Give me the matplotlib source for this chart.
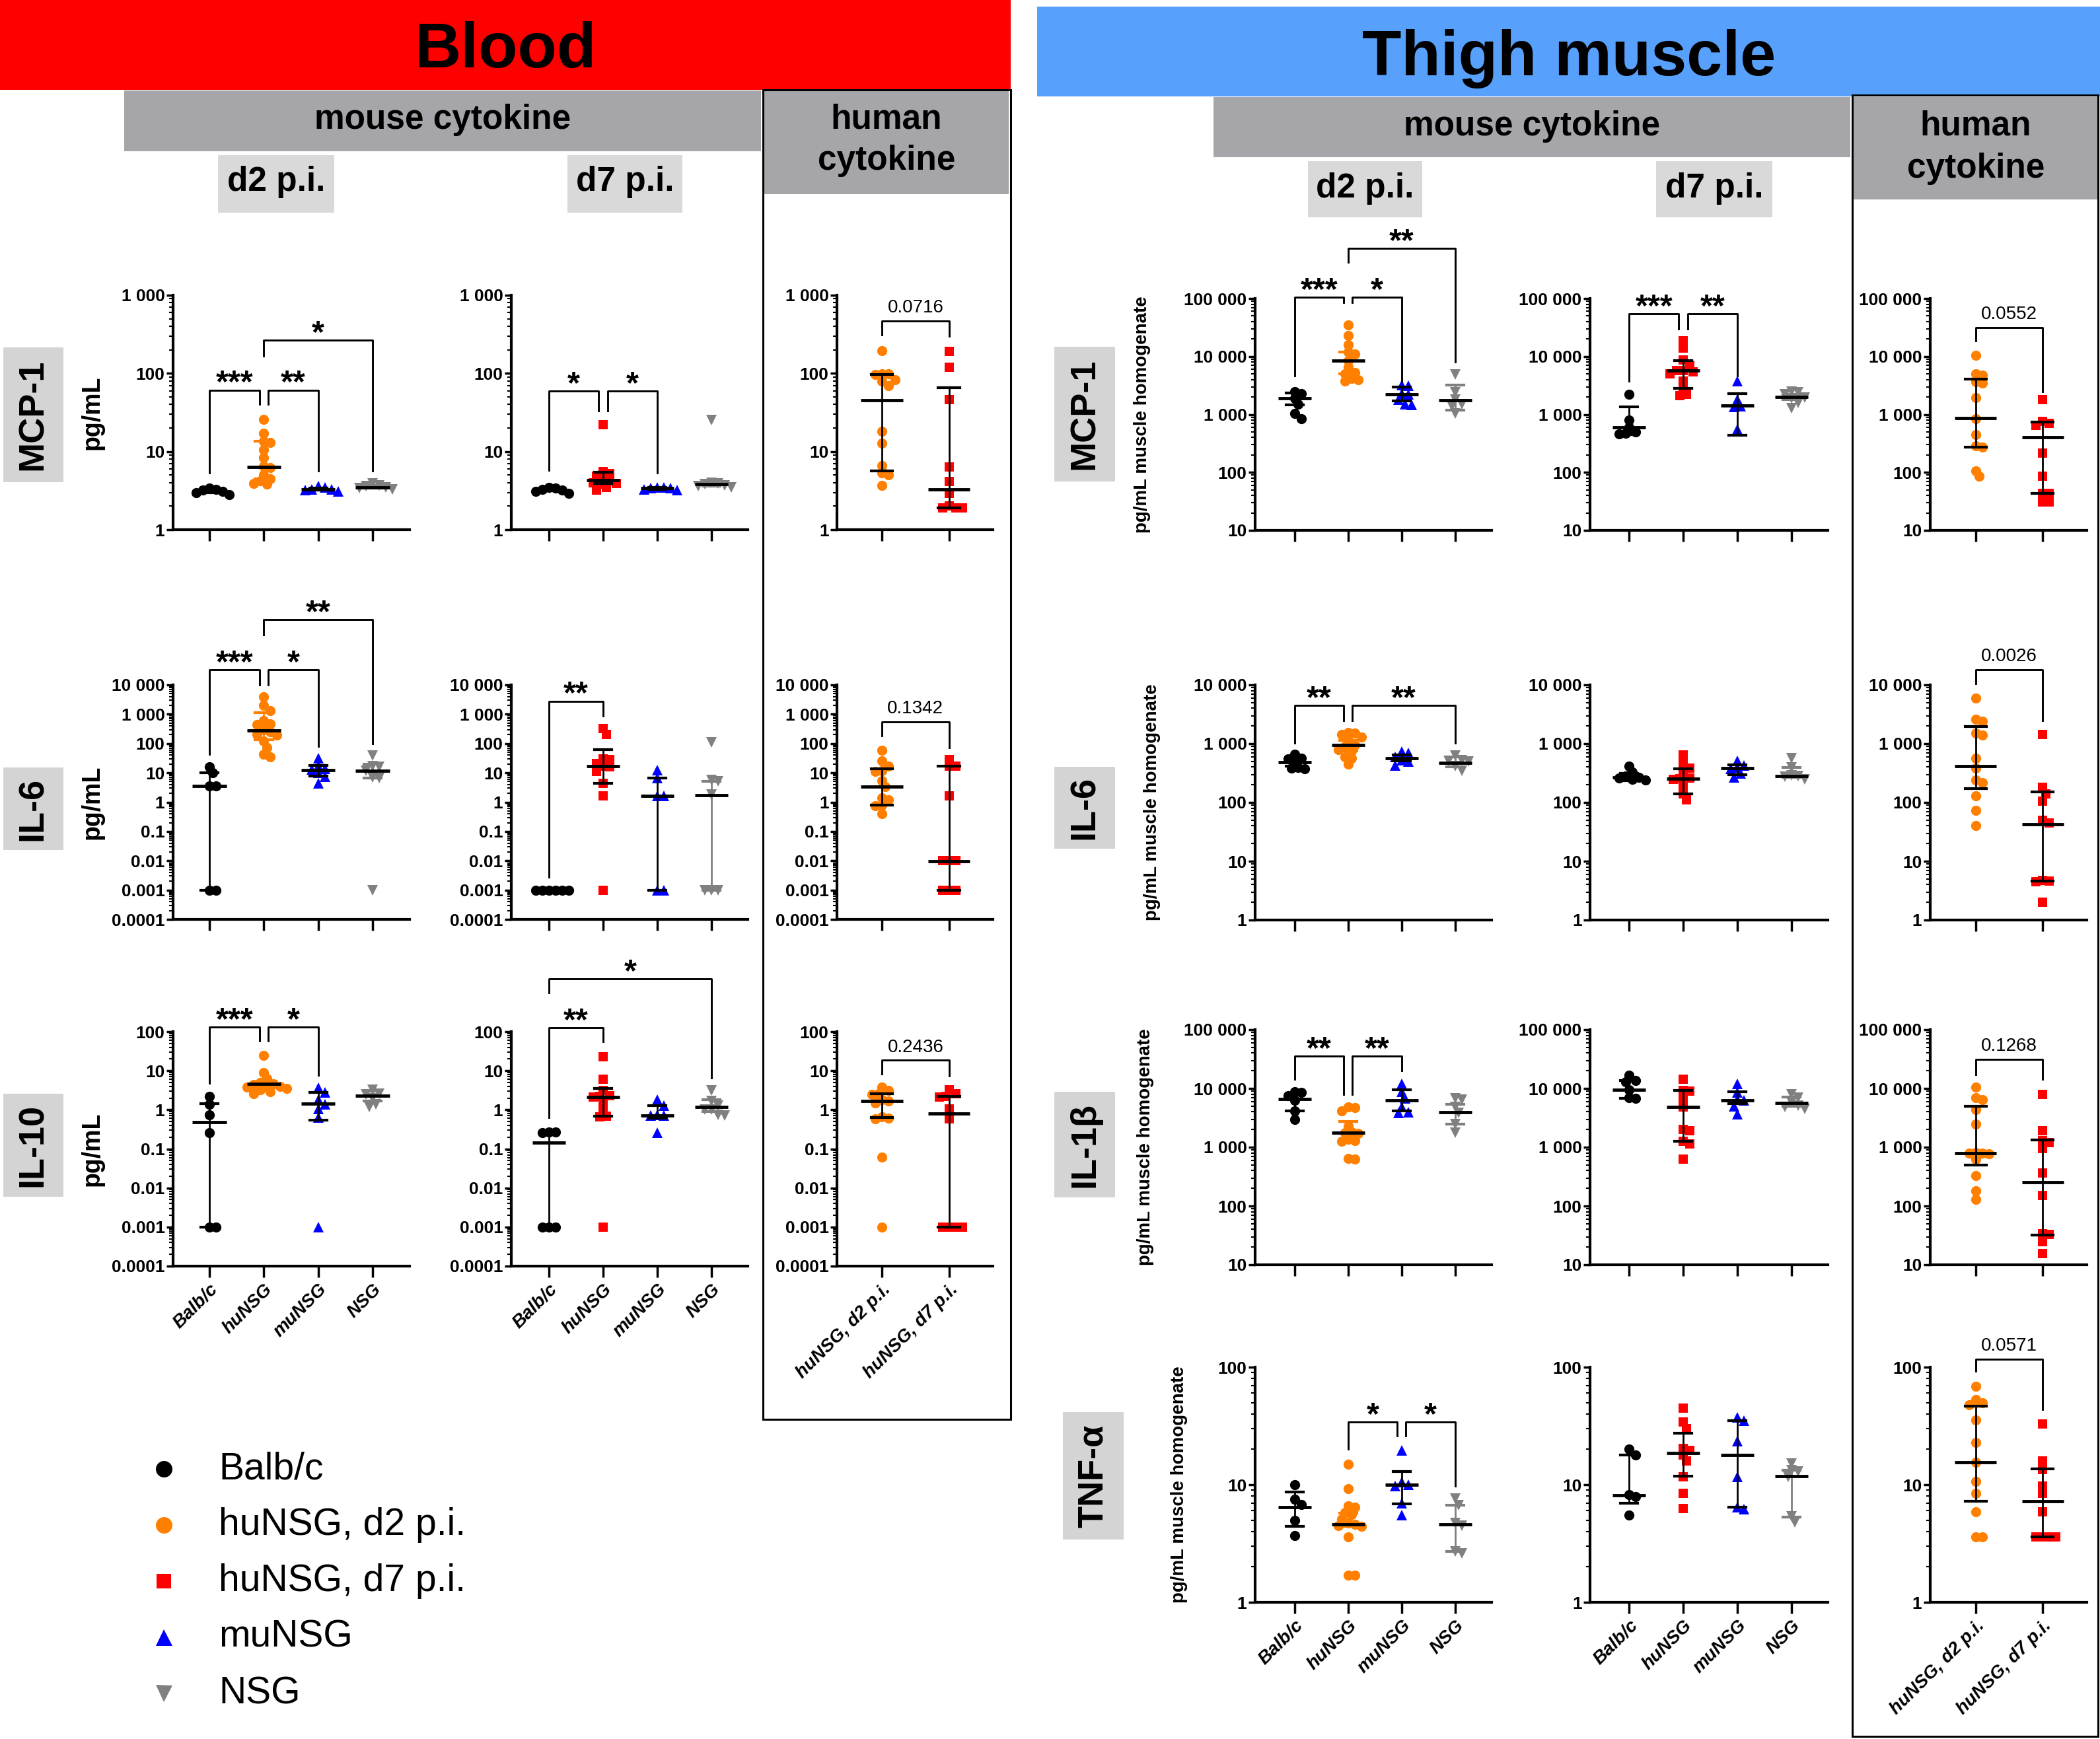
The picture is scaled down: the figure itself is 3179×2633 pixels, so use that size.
import numpy as np
import matplotlib
matplotlib.use('Agg')
import matplotlib.pyplot as plt
from matplotlib.patches import Rectangle
from matplotlib.ticker import LogLocator, NullFormatter

plt.rcParams['font.family'] = ['Liberation Sans', 'DejaVu Sans']

# ---------------- data ----------------
# groups: Balb/c, huNSG, muNSG, NSG ; human panels: huNSG d2, huNSG d7
mouse_groups = ['Balb/c', 'huNSG', 'muNSG', 'NSG']
human_groups = ['huNSG, d2 p.i.', 'huNSG, d7 p.i.']
legend_names = ['Balb/c', 'huNSG, d2 p.i.', 'huNSG, d7 p.i.', 'muNSG', 'NSG']

# Blood MCP-1
bm_d2_vals = [[2.8, 3.0, 3.1, 3.2, 3.3, 3.4],
              [26, 17, 13.5, 13, 10.5, 8.3, 6.5, 6.2, 5.0, 4.5, 4.2, 3.9, 3.8],
              [3.1, 3.2, 3.3, 3.3, 3.5, 3.6],
              [3.3, 3.4, 3.5, 3.6, 3.7, 3.9]]
bm_d2_mid = [3.1, 6.4, 3.3, 3.5]
bm_d2_err = [(3.0, 3.3), (4.5, 13.5), (3.2, 3.4), (3.4, 3.7)]
bm_d2_sig = [(0, 1, 61, 5.3, 40, '***'), (1, 2, 61, 40, 5.7, '**'), (1, 3, 266, 168, 5.7, '*')]

bm_d7_vals = [[2.9, 3.1, 3.2, 3.3, 3.4, 3.5],
              [22, 5.5, 5.2, 4.8, 4.5, 4.2, 4.0, 3.9, 3.8, 3.5, 3.2],
              [3.2, 3.3, 3.4, 3.4, 3.5, 3.5],
              [25.5, 4.0, 3.9, 3.8, 3.7, 3.6, 3.5]]
bm_d7_mid = [3.3, 4.3, 3.4, 3.8]
bm_d7_err = [(3.2, 3.4), (3.9, 5.4), (3.3, 3.5), (3.6, 4.0)]
bm_d7_sig = [(0, 1, 59, 5.8, 33, '*'), (1, 2, 59, 33, 5.3, '*')]

bm_hu_vals = [[196, 99, 98, 97, 83, 80, 70, 18, 12.8, 6.6, 5.3, 5.0, 3.7],
              [190, 121, 46, 6.4, 4.1, 2.9, 2.0, 1.9, 1.9, 1.9]]
bm_hu_mid = [45, 3.3]
bm_hu_err = [(5.6, 96), (1.9, 65)]
bm_hu_sig = [(0, 1, 465, 310, 297, '0.0716')]

# Blood IL-6
b6_d2_vals = [[16, 10, 3.5, 3.5, 0.001, 0.001],
              [4000, 2000, 1300, 600, 480, 450, 300, 250, 200, 190, 120, 72, 44, 35],
              [32, 17, 14, 13, 10, 7.5, 4.3],
              [39, 17, 16, 11.5, 7, 6.5, 0.001]]
b6_d2_mid = [3.5, 275, 12.6, 11.7]
b6_d2_err = [(0.001, 10), (134, 1120), (7.9, 17.6), (6.8, 19.5)]
b6_d2_sig = [(0, 1, 33000, 44, 10000, '***'), (1, 2, 33000, 10000, 80, '*'),
             (1, 3, 1.7e6, 5.1e5, 98, '**')]

b6_d7_vals = [[0.001, 0.001, 0.001, 0.001, 0.001, 0.001],
              [320, 200, 30, 28, 21, 17, 16, 11, 4.3, 1.6, 0.001],
              [12.6, 6.8, 1.6, 1.6, 0.001, 0.001],
              [110, 5.8, 5.0, 1.8, 0.001, 0.001, 0.001]]
b6_d7_mid = [0.001, 16.6, 1.6, 1.7]
b6_d7_err = [(0.001, 0.001), (4.3, 63), (0.001, 6.8), (0.001, 5.2)]
b6_d7_sig = [(0, 1, 2800, 0.0027, 890, '**')]

b6_hu_vals = [[60, 26, 17, 12, 11, 5.5, 3.3, 1.4, 1.2, 0.8, 0.75, 0.4],
              [29, 17, 17, 1.6, 0.01, 0.01, 0.01, 0.001, 0.001, 0.001]]
b6_hu_mid = [3.3, 0.0095]
b6_hu_err = [(0.8, 13.9), (0.001, 17)]
b6_hu_sig = [(0, 1, 560, 180, 72, '0.1342')]

# Blood IL-10
b10_d2_vals = [[2.2, 1.4, 0.75, 0.26, 0.001, 0.001],
               [25, 9, 6.3, 5, 4.6, 4.4, 4.2, 4, 3.8, 3.5, 3.2, 2.9, 2.6],
               [3.7, 2.8, 1.8, 1.4, 1.06, 0.63, 0.001],
               [3.2, 2.6, 2.5, 2.0, 1.4, 1.2]]
b10_d2_mid = [0.49, 4.6, 1.45, 2.3]
b10_d2_err = [(0.001, 1.44), (3.1, 5.2), (0.54, 2.8), (1.66, 3.0)]
b10_d2_sig = [(0, 1, 130, 4.8, 59, '***'), (1, 2, 130, 59, 7.8, '*')]

b10_d7_vals = [[0.27, 0.27, 0.26, 0.001, 0.001, 0.001],
               [23, 6, 3.1, 2.3, 2.2, 2.1, 1.5, 1.0, 0.68, 0.65, 0.001],
               [1.8, 1.3, 0.75, 0.72, 0.7, 0.26],
               [3.1, 1.7, 1.3, 1.0, 1.0, 0.75, 0.72]]
b10_d7_mid = [0.145, 2.1, 0.72, 1.2]
b10_d7_err = [(0.001, 0.27), (0.68, 3.5), (0.6, 1.3), (0.9, 1.8)]
b10_d7_sig = [(0, 1, 124, 0.64, 55, '**'), (0, 3, 2240, 1000, 6.6, '*')]

b10_hu_vals = [[3.8, 3.1, 2.6, 2.5, 1.8, 1.7, 1.5, 0.65, 0.6, 0.58, 0.062, 0.001],
               [3.2, 2.6, 2.2, 2.1, 1.06, 0.59, 0.001, 0.001, 0.001, 0.001]]
b10_hu_mid = [1.66, 0.81]
b10_hu_err = [(0.64, 2.6), (0.001, 2.2)]
b10_hu_sig = [(0, 1, 18.4, 8.2, 7.3, '0.2436')]

# Thigh muscle MCP-1
tm_d2_vals = [[2500, 2300, 1900, 1500, 1050, 850],
              [35000, 23000, 16000, 12000, 11000, 8500, 6500, 5300, 5000, 4200, 4000, 3800],
              [3200, 3100, 2300, 2200, 1800, 1500, 1450],
              [4900, 2400, 1800, 1500, 1400, 1050]]
tm_d2_mid = [1900, 8500, 2200, 1760]
tm_d2_err = [(1480, 2350), (5000, 12000), (1700, 2950), (1200, 3200)]
tm_d2_sig = [(0, 1, 105000, 4600, 85000, '***'), (1, 2, 105000, 85000, 3650, '*'),
             (1, 3, 730000, 420000, 8000, '**')]

tm_d7_vals = [[2200, 800, 600, 500, 470, 460],
              [18600, 14000, 8700, 7000, 5800, 5700, 5500, 5000, 3800, 2800, 2200, 2100],
              [3800, 1800, 1400, 1350, 560],
              [2500, 2400, 2200, 1950, 1900, 1600, 1300]]
tm_d7_mid = [600, 5800, 1440, 1980]
tm_d7_err = [(455, 1370), (2800, 8500), (440, 2300), (1800, 2150)]
tm_d7_sig = [(0, 1, 55000, 3800, 30000, '***'), (1, 2, 55000, 30000, 4700, '**')]

tm_hu_vals = [[10500, 5000, 4800, 3700, 3500, 1950, 850, 450, 290, 270, 107, 85],
              [1800, 750, 700, 650, 215, 87, 44, 44, 31, 31]]
tm_hu_mid = [870, 400]
tm_hu_err = [(270, 4100), (44, 740)]
tm_hu_sig = [(0, 1, 31600, 18600, 2450, '0.0552')]

# Thigh muscle IL-6
t6_d2_vals = [[660, 570, 550, 490, 390, 380, 370],
              [1550, 1500, 1450, 1300, 1150, 950, 900, 800, 750, 600, 570, 450],
              [730, 700, 600, 520, 500, 430],
              [630, 520, 510, 500, 420, 350]]
t6_d2_mid = [490, 950, 565, 475]
t6_d2_err = [(420, 590), (760, 1140), (510, 650), (400, 590)]
t6_d2_sig = [(0, 1, 4450, 1020, 2500, '**'), (1, 3, 4450, 2500, 1020, '**')]

t6_d7_vals = [[420, 330, 280, 270, 260, 250, 240],
              [640, 450, 380, 320, 260, 255, 250, 200, 140, 110],
              [510, 430, 390, 370, 310, 270],
              [570, 390, 290, 280, 275, 250]]
t6_d7_mid = [270, 256, 380, 280]
t6_d7_err = [(235, 310), (140, 370), (300, 440), (270, 390)]
t6_d7_sig = []

t6_hu_vals = [[6000, 2600, 2400, 1500, 1400, 570, 380, 240, 220, 130, 74, 40],
              [1450, 180, 140, 105, 50, 45, 4.7, 4.6, 4.5, 2.0]]
t6_hu_mid = [420, 43]
t6_hu_err = [(172, 1950), (4.6, 150)]
t6_hu_sig = [(0, 1, 18000, 10500, 2500, '0.0026')]

# Thigh muscle IL-1b
t1_d2_vals = [[8800, 8500, 7600, 6300, 4200, 3000],
              [4900, 4700, 4200, 2300, 1800, 1750, 1700, 1350, 1300, 1250, 650, 620],
              [12000, 8700, 6800, 4800, 3900, 3800],
              [6700, 6500, 4800, 3800, 2500, 1750]]
t1_d2_mid = [6600, 1780, 6300, 3900]
t1_d2_err = [(4200, 7700), (1320, 2770), (4100, 9600), (2500, 5400)]
t1_d2_sig = [(0, 1, 35600, 14500, 8000, '**'), (1, 2, 35600, 8000, 20000, '**')]

t1_d7_vals = [[16700, 13500, 13000, 9600, 7000, 6800],
              [14500, 9300, 9000, 6900, 4800, 2000, 1900, 1250, 1150, 630],
              [12000, 8500, 6400, 6200, 5000, 3600],
              [8000, 7000, 5800, 5100, 4900, 4500]]
t1_d7_mid = [9600, 4800, 6300, 5700]
t1_d7_err = [(6700, 13600), (1250, 9200), (5500, 8700), (5000, 7200)]
t1_d7_sig = []

t1_hu_vals = [[10500, 6900, 6500, 4400, 2500, 820, 800, 790, 780, 630, 330, 180, 130],
              [8000, 1900, 1300, 1200, 960, 360, 150, 34, 33, 25, 15.6]]
t1_hu_mid = [790, 255]
t1_hu_err = [(500, 5000), (32, 1320)]
t1_hu_sig = [(0, 1, 31000, 17300, 14500, '0.1268')]

# Thigh muscle TNF-a
tt_d2_vals = [[10, 7.5, 6.8, 5.0, 3.7],
              [15, 9.2, 6.6, 6.4, 5.8, 5.6, 5.1, 4.7, 4.6, 4.5, 4.4, 3.6, 1.7, 1.7],
              [19.5, 10.5, 10, 9.8, 7.0, 5.5],
              [7.6, 6.7, 4.7, 4.5, 2.7, 2.6]]
tt_d2_mid = [6.4, 4.6, 10, 4.6]
tt_d2_err = [(4.4, 8.7), (4.4, 5.7), (6.9, 13), (2.7, 6.7)]
tt_d2_sig = [(1, 2, 34, 20, 26, '*'), (2, 3, 34, 26, 9.8, '*')]

tt_d7_vals = [[20, 18, 8.2, 7.9, 5.5],
              [45, 34, 30, 20.5, 19.5, 18, 16, 11.7, 8.5, 6.3],
              [37.5, 35, 23.5, 11.7, 6.4, 6.2],
              [15.2, 13.3, 13, 11.7, 5.4, 4.8]]
tt_d7_mid = [8.1, 18.6, 17.8, 11.8]
tt_d7_err = [(7.0, 18), (11.8, 27.5), (6.4, 35), (5.3, 13.3)]
tt_d7_sig = []

tt_hu_vals = [[69, 53, 50, 48, 35.5, 23, 15.6, 10.7, 8.5, 5.9, 3.6, 3.6],
              [33, 16, 13.5, 9.7, 8.5, 5.9, 3.6, 3.6, 3.6, 3.6]]
tt_hu_mid = [15.6, 7.2]
tt_hu_err = [(7.2, 46.8), (3.6, 13.7)]
tt_hu_sig = [(0, 1, 117, 92, 43.6, '0.0571')]

# ---------------- style ----------------
ORANGE = '#ff8000'
RED = '#ff0000'
BLUE = '#0000ff'
GRAY = '#808080'
d2_style = (['k', ORANGE, BLUE, GRAY], ['o', 'o', '^', 'v'], ['k', ORANGE, 'k', GRAY])
d7_style = (['k', RED, BLUE, GRAY], ['o', 's', '^', 'v'], ['k', 'k', 'k', GRAY])
hu_style = ([ORANGE, RED], ['o', 's'], ['k', 'k'])
msize = {'o': 11, 's': 9.5, '^': 11, 'v': 11}

W, H = 3179, 2633
fig = plt.figure(figsize=(W / 100, H / 100), dpi=100)
bg = fig.add_axes([0, 0, 1, 1])
bg.set_xlim(0, W)
bg.set_ylim(H, 0)
bg.axis('off')


def box(x0, y0, x1, y1, fc, ec='none', lw=0):
    bg.add_patch(Rectangle((x0, y0), x1 - x0, y1 - y0, fc=fc, ec=ec, lw=lw))


def swarm(v, ppd, step=10.0):
    # simple beeswarm: spread equal-ish values sideways (pixels)
    y = np.log10(np.asarray(v, float)) * ppd
    order = np.argsort(-y, kind='stable')
    xs = np.zeros(len(y))
    done = []
    for k in order:
        x = 0.0
        for c in [0, 1, -1, 2, -2, 3, -3, 4, -4, 5, -5, 6, -6, 7, -7]:
            x = c * step * 0.5
            if all((x - xs[m]) ** 2 + (y[k] - y[m]) ** 2 >= step ** 2 for m in done):
                break
        xs[k] = x
        done.append(k)
    return xs


def fmt(v):
    if v >= 1:
        return f'{int(round(v)):,}'.replace(',', ' ')
    return np.format_float_positional(v, trim='-')


def panel(x0, x1, y0, y1, xlim, ylim, vals, mid, err, sig, style, xlabels=None):
    cols, marks, ecols = style
    ax = fig.add_axes([x0 / W, 1 - y1 / H, (x1 - x0) / W, (y1 - y0) / H])
    ax.set_yscale('log')
    ax.set_xlim(*xlim)
    ax.set_ylim(*ylim)
    ppc = (x1 - x0) / (xlim[1] - xlim[0])
    ppd = (y1 - y0) / np.log10(ylim[1] / ylim[0])
    for i, v in enumerate(vals):
        dx = swarm(v, ppd) / ppc
        ax.plot(i + dx, v, ls='none', marker=marks[i], color=cols[i], ms=msize[marks[i]],
                mew=0, zorder=3, clip_on=False)
        lo, hi = err[i]
        ax.plot([i, i], [lo, hi], color=ecols[i], lw=2, zorder=4, clip_on=False)
        for e in (lo, hi):
            ax.plot([i - 0.16, i + 0.16], [e, e], color=ecols[i], lw=3, zorder=4, clip_on=False)
        ax.plot([i - 0.31, i + 0.31], [mid[i], mid[i]], color='k', lw=3.5, zorder=5,
                solid_capstyle='butt', clip_on=False)
    for (i, j, top, li, lj, lab) in sig:
        xi, xj = float(i), float(j)
        for (a, b, t2, *_rest) in sig:
            if t2 == top and (a, b) != (i, j):
                if a == j:
                    xj = j - 0.08
                if b == i:
                    xi = i + 0.08
        ax.plot([xi, xi, xj, xj], [li, top, top, lj], color='k', lw=2.1, zorder=6, clip_on=False)
        if lab[0].isdigit():
            ax.annotate(lab, xy=((xi + xj) / 2, top), xytext=(0, 5), textcoords='offset points',
                        ha='center', va='bottom', fontsize=20, annotation_clip=False)
        else:
            ax.annotate(lab, xy=((xi + xj) / 2, top), xytext=(0, -2), textcoords='offset points',
                        ha='center', va='baseline', fontsize=35, fontweight='bold',
                        annotation_clip=False)
    for s in ('top', 'right'):
        ax.spines[s].set_visible(False)
    for s in ('left', 'bottom'):
        ax.spines[s].set_linewidth(3)
    e0, e1 = int(round(np.log10(ylim[0]))), int(round(np.log10(ylim[1])))
    ticks = [10.0 ** e for e in range(e0, e1 + 1)]
    ax.set_yticks(ticks, labels=[fmt(t) for t in ticks], fontsize=19, fontweight='bold')
    ax.yaxis.set_minor_locator(LogLocator(base=10, subs=np.arange(2, 10), numticks=100))
    ax.yaxis.set_minor_formatter(NullFormatter())
    ax.tick_params(axis='y', which='major', length=7, width=2.5, pad=2)
    ax.tick_params(axis='y', which='minor', length=4, width=1.5)
    n = len(vals)
    if xlabels:
        ax.set_xticks(range(n), labels=xlabels, rotation=45, ha='right', va='top',
                      rotation_mode='anchor', fontsize=20, fontweight='bold', fontstyle='italic')
    else:
        ax.set_xticks(range(n), labels=[])
    ax.tick_params(axis='x', length=12, width=2.5, pad=4)
    return ax


# ---------------- headers ----------------
box(0, 0, 1530, 136, RED)
bg.text(765, 102, 'Blood', fontsize=70, fontweight='bold', ha='center', va='baseline')
box(1570, 10, W, 146, '#57a0fb')
bg.text(2375, 114, 'Thigh muscle', fontsize=70, fontweight='bold', ha='center', va='baseline')

head_font = dict(fontsize=37, fontweight='bold', ha='center', va='center')
box(188, 137, 1152, 229, '#a6a6aa')
bg.text(670, 181, 'mouse cytokine', **head_font)
box(1157, 137, 1527, 294, '#a6a6aa')
bg.text(1342, 181, 'human', **head_font)
bg.text(1342, 244, 'cytokine', **head_font)
box(330, 235, 506, 322, '#d9d9d9')
bg.text(418, 276, 'd2 p.i.', **head_font)
box(859, 235, 1033, 322, '#d9d9d9')
bg.text(946, 276, 'd7 p.i.', **head_font)

box(1837, 147, 2801, 238, '#a6a6aa')
bg.text(2319, 191, 'mouse cytokine', **head_font)
box(2806, 147, 3176, 302, '#a6a6aa')
bg.text(2991, 191, 'human', **head_font)
bg.text(2991, 256, 'cytokine', **head_font)
box(1980, 244, 2153, 329, '#d9d9d9')
bg.text(2066, 285, 'd2 p.i.', **head_font)
box(2507, 244, 2683, 329, '#d9d9d9')
bg.text(2595, 285, 'd7 p.i.', **head_font)

box(1155, 136, 1530, 2149, 'none', 'k', 2.2)
box(2804, 144, 3176, 2629, 'none', 'k', 2.2)

# ---------------- panels ----------------
blood_x = [(262, 620, (-0.668, 3.68)), (774, 1132, (-0.695, 3.67)), (1267, 1503, (-0.667, 1.65))]
thigh_x = [(1900, 2258, (-0.74, 3.68)), (2407, 2767, (-0.72, 3.67)), (2922, 3159, (-0.68, 1.66))]

blood_rows = [
    ('MCP-1', 447, 802, (1, 1000), (526, 730),
     [(bm_d2_vals, bm_d2_mid, bm_d2_err, bm_d2_sig), (bm_d7_vals, bm_d7_mid, bm_d7_err, bm_d7_sig),
      (bm_hu_vals, bm_hu_mid, bm_hu_err, bm_hu_sig)]),
    ('IL-6', 1037, 1392, (1e-4, 1e4), (1162, 1287),
     [(b6_d2_vals, b6_d2_mid, b6_d2_err, b6_d2_sig), (b6_d7_vals, b6_d7_mid, b6_d7_err, b6_d7_sig),
      (b6_hu_vals, b6_hu_mid, b6_hu_err, b6_hu_sig)]),
    ('IL-10', 1562, 1917, (1e-4, 100), (1656, 1812),
     [(b10_d2_vals, b10_d2_mid, b10_d2_err, b10_d2_sig), (b10_d7_vals, b10_d7_mid, b10_d7_err, b10_d7_sig),
      (b10_hu_vals, b10_hu_mid, b10_hu_err, b10_hu_sig)]),
]
thigh_rows = [
    ('MCP-1', 452, 803, (10, 1e5), (525, 729), 1729,
     [(tm_d2_vals, tm_d2_mid, tm_d2_err, tm_d2_sig), (tm_d7_vals, tm_d7_mid, tm_d7_err, tm_d7_sig),
      (tm_hu_vals, tm_hu_mid, tm_hu_err, tm_hu_sig)]),
    ('IL-6', 1037, 1393, (1, 1e4), (1161, 1285), 1744,
     [(t6_d2_vals, t6_d2_mid, t6_d2_err, t6_d2_sig), (t6_d7_vals, t6_d7_mid, t6_d7_err, t6_d7_sig),
      (t6_hu_vals, t6_hu_mid, t6_hu_err, t6_hu_sig)]),
    ('IL-1β', 1559, 1915, (10, 1e5), (1653, 1813), 1734,
     [(t1_d2_vals, t1_d2_mid, t1_d2_err, t1_d2_sig), (t1_d7_vals, t1_d7_mid, t1_d7_err, t1_d7_sig),
      (t1_hu_vals, t1_hu_mid, t1_hu_err, t1_hu_sig)]),
    ('TNF-α', 2070, 2426, (1, 100), (2138, 2331), 1785,
     [(tt_d2_vals, tt_d2_mid, tt_d2_err, tt_d2_sig), (tt_d7_vals, tt_d7_mid, tt_d7_err, tt_d7_sig),
      (tt_hu_vals, tt_hu_mid, tt_hu_err, tt_hu_sig)]),
]
styles = [d2_style, d7_style, hu_style]

for r, (name, y0, y1, ylim, lab_box, panels) in enumerate(blood_rows):
    last = r == len(blood_rows) - 1
    for k, (px, pdata) in enumerate(zip(blood_x, panels)):
        xl = (mouse_groups if k < 2 else human_groups) if last else None
        panel(px[0], px[1], y0, y1, px[2], ylim, *pdata, styles[k], xlabels=xl)
    box(5, lab_box[0], 96, lab_box[1], '#d4d4d4')
    bg.text(50, (lab_box[0] + lab_box[1]) / 2, name, rotation=90, fontsize=39,
            fontweight='bold', ha='center', va='center')
    bg.text(140, (y0 + y1) / 2, 'pg/mL', rotation=90, fontsize=27, fontweight='bold',
            ha='center', va='center')

for r, (name, y0, y1, ylim, lab_box, ylx, panels) in enumerate(thigh_rows):
    last = r == len(thigh_rows) - 1
    for k, (px, pdata) in enumerate(zip(thigh_x, panels)):
        xl = (mouse_groups if k < 2 else human_groups) if last else None
        panel(px[0], px[1], y0, y1, px[2], ylim, *pdata, styles[k], xlabels=xl)
    bx0 = 1609 if last else 1596
    box(bx0, lab_box[0], bx0 + 92, lab_box[1], '#d4d4d4')
    bg.text(bx0 + 46, (lab_box[0] + lab_box[1]) / 2, name, rotation=90, fontsize=39,
            fontweight='bold', ha='center', va='center')
    bg.text(ylx, (y0 + y1) / 2, 'pg/mL muscle homogenate', rotation=90, fontsize=20,
            fontweight='bold', ha='center', va='center')

# ---------------- legend ----------------
leg_cols = ['k', ORANGE, RED, BLUE, GRAY]
leg_marks = ['o', 'o', 's', '^', 'v']
leg_y = [2224, 2309, 2394, 2479, 2564]
for c, m, y, t in zip(leg_cols, leg_marks, leg_y, legend_names):
    bg.plot([248], [y], ls='none', marker=m, color=c, ms=18 if m != 's' else 16, mew=0)
    bg.text(331, y, t, fontsize=41, ha='left', va='center')

fig.savefig('out.png', dpi=100)
